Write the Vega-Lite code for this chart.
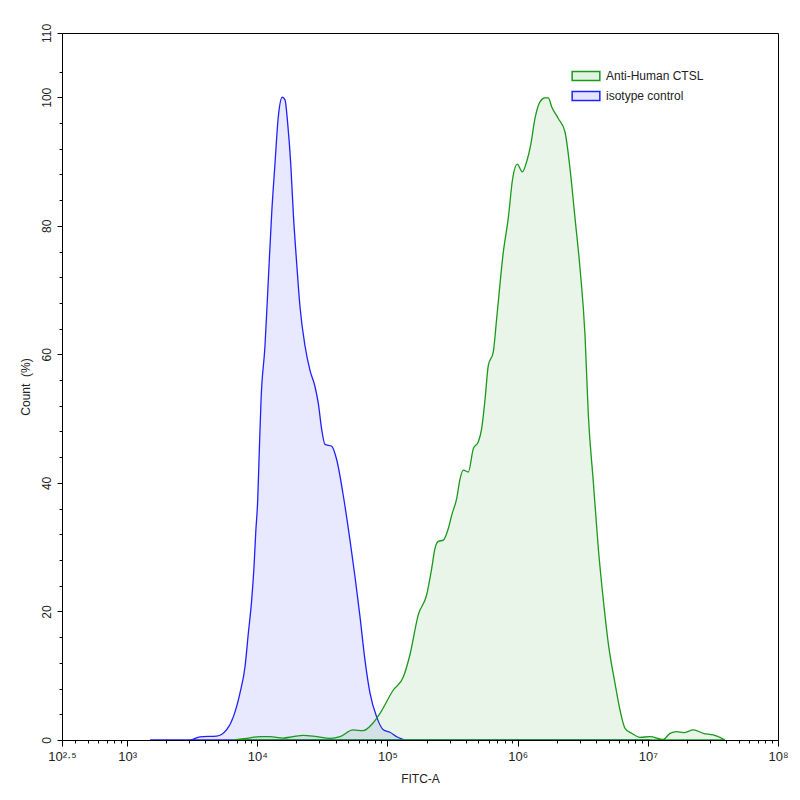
{
  "$schema": "https://vega.github.io/schema/vega-lite/v6.json",
  "width": 716,
  "height": 707,
  "autosize": "none",
  "padding": {"left": 62, "top": 33, "right": 22, "bottom": 60},
  "background": "white",
  "config": {
    "font": "Liberation Sans",
    "view": {"stroke": "black", "strokeWidth": 1},
    "axis": {"labelFont": "Liberation Sans", "titleFont": "Liberation Sans", "labelColor": "#222", "titleColor": "#222", "domainColor": "black", "tickColor": "black", "grid": false}
  },
  "data": {
    "values": [
      {"series": "isotype control", "fitc": 1500, "count": 0},
      {"series": "isotype control", "fitc": 3041, "count": 0},
      {"series": "isotype control", "fitc": 3631, "count": 0.5},
      {"series": "isotype control", "fitc": 4876, "count": 0.6},
      {"series": "isotype control", "fitc": 5821, "count": 1.6},
      {"series": "isotype control", "fitc": 6546, "count": 3.6},
      {"series": "isotype control", "fitc": 7362, "count": 7.3},
      {"series": "isotype control", "fitc": 8050, "count": 11.4},
      {"series": "isotype control", "fitc": 8536, "count": 16.6},
      {"series": "isotype control", "fitc": 9060, "count": 21.8},
      {"series": "isotype control", "fitc": 9440, "count": 27.0},
      {"series": "isotype control", "fitc": 9727, "count": 32.2},
      {"series": "isotype control", "fitc": 10075, "count": 37.3},
      {"series": "isotype control", "fitc": 10370, "count": 45.1},
      {"series": "isotype control", "fitc": 10690, "count": 52.9},
      {"series": "isotype control", "fitc": 11460, "count": 61.3},
      {"series": "isotype control", "fitc": 12160, "count": 71.6},
      {"series": "isotype control", "fitc": 12910, "count": 82.0},
      {"series": "isotype control", "fitc": 13680, "count": 89.7},
      {"series": "isotype control", "fitc": 14510, "count": 97.0},
      {"series": "isotype control", "fitc": 15570, "count": 100},
      {"series": "isotype control", "fitc": 16330, "count": 99.6},
      {"series": "isotype control", "fitc": 17130, "count": 95.9},
      {"series": "isotype control", "fitc": 18070, "count": 89.7},
      {"series": "isotype control", "fitc": 18920, "count": 81.9},
      {"series": "isotype control", "fitc": 20090, "count": 74.1},
      {"series": "isotype control", "fitc": 21290, "count": 67.4},
      {"series": "isotype control", "fitc": 23270, "count": 61.3},
      {"series": "isotype control", "fitc": 25410, "count": 57.5},
      {"series": "isotype control", "fitc": 27750, "count": 55.0},
      {"series": "isotype control", "fitc": 29420, "count": 52.4},
      {"series": "isotype control", "fitc": 31260, "count": 48.3},
      {"series": "isotype control", "fitc": 33120, "count": 46.0},
      {"series": "isotype control", "fitc": 37320, "count": 45.7},
      {"series": "isotype control", "fitc": 40760, "count": 43.6},
      {"series": "isotype control", "fitc": 45810, "count": 38.0},
      {"series": "isotype control", "fitc": 51540, "count": 31.1},
      {"series": "isotype control", "fitc": 56330, "count": 25.4},
      {"series": "isotype control", "fitc": 61520, "count": 19.2},
      {"series": "isotype control", "fitc": 67230, "count": 12.4},
      {"series": "isotype control", "fitc": 73450, "count": 7.3},
      {"series": "isotype control", "fitc": 82620, "count": 3.6},
      {"series": "isotype control", "fitc": 92900, "count": 1.6},
      {"series": "isotype control", "fitc": 104600, "count": 1.2},
      {"series": "isotype control", "fitc": 117800, "count": 0.5},
      {"series": "isotype control", "fitc": 140500, "count": 0},
      {"series": "isotype control", "fitc": 10400000, "count": 0},
      {"series": "Anti-Human CTSL", "fitc": 6520, "count": 0},
      {"series": "Anti-Human CTSL", "fitc": 8300, "count": 0.26},
      {"series": "Anti-Human CTSL", "fitc": 10500, "count": 0.52},
      {"series": "Anti-Human CTSL", "fitc": 12530, "count": 0.52},
      {"series": "Anti-Human CTSL", "fitc": 15780, "count": 0.3},
      {"series": "Anti-Human CTSL", "fitc": 18800, "count": 0.52},
      {"series": "Anti-Human CTSL", "fitc": 22440, "count": 0.73},
      {"series": "Anti-Human CTSL", "fitc": 28620, "count": 0.52},
      {"series": "Anti-Human CTSL", "fitc": 36240, "count": 0.26},
      {"series": "Anti-Human CTSL", "fitc": 43250, "count": 0.52},
      {"series": "Anti-Human CTSL", "fitc": 54380, "count": 1.56},
      {"series": "Anti-Human CTSL", "fitc": 64890, "count": 1.45},
      {"series": "Anti-Human CTSL", "fitc": 77460, "count": 2.65},
      {"series": "Anti-Human CTSL", "fitc": 87660, "count": 4.15},
      {"series": "Anti-Human CTSL", "fitc": 110900, "count": 7.78},
      {"series": "Anti-Human CTSL", "fitc": 132400, "count": 9.8},
      {"series": "Anti-Human CTSL", "fitc": 149000, "count": 13.3},
      {"series": "Anti-Human CTSL", "fitc": 172600, "count": 19.5},
      {"series": "Anti-Human CTSL", "fitc": 200100, "count": 22.6},
      {"series": "Anti-Human CTSL", "fitc": 218700, "count": 26.7},
      {"series": "Anti-Human CTSL", "fitc": 231800, "count": 29.8},
      {"series": "Anti-Human CTSL", "fitc": 245800, "count": 30.9},
      {"series": "Anti-Human CTSL", "fitc": 268700, "count": 31.1},
      {"series": "Anti-Human CTSL", "fitc": 293400, "count": 32.9},
      {"series": "Anti-Human CTSL", "fitc": 311700, "count": 35.0},
      {"series": "Anti-Human CTSL", "fitc": 340500, "count": 37.6},
      {"series": "Anti-Human CTSL", "fitc": 360800, "count": 40.6},
      {"series": "Anti-Human CTSL", "fitc": 382800, "count": 42.0},
      {"series": "Anti-Human CTSL", "fitc": 418000, "count": 41.7},
      {"series": "Anti-Human CTSL", "fitc": 456300, "count": 45.3},
      {"series": "Anti-Human CTSL", "fitc": 498800, "count": 46.4},
      {"series": "Anti-Human CTSL", "fitc": 529600, "count": 48.5},
      {"series": "Anti-Human CTSL", "fitc": 561200, "count": 52.9},
      {"series": "Anti-Human CTSL", "fitc": 595400, "count": 58.3},
      {"series": "Anti-Human CTSL", "fitc": 650300, "count": 60.4},
      {"series": "Anti-Human CTSL", "fitc": 690300, "count": 65.6},
      {"series": "Anti-Human CTSL", "fitc": 776100, "count": 75.9},
      {"series": "Anti-Human CTSL", "fitc": 847400, "count": 81.2},
      {"series": "Anti-Human CTSL", "fitc": 916200, "count": 87.4},
      {"series": "Anti-Human CTSL", "fitc": 993500, "count": 89.6},
      {"series": "Anti-Human CTSL", "fitc": 1086000, "count": 88.4},
      {"series": "Anti-Human CTSL", "fitc": 1174000, "count": 90.0},
      {"series": "Anti-Human CTSL", "fitc": 1260000, "count": 92.6},
      {"series": "Anti-Human CTSL", "fitc": 1359000, "count": 96.7},
      {"series": "Anti-Human CTSL", "fitc": 1485000, "count": 99.3},
      {"series": "Anti-Human CTSL", "fitc": 1622000, "count": 99.9},
      {"series": "Anti-Human CTSL", "fitc": 1721000, "count": 99.9},
      {"series": "Anti-Human CTSL", "fitc": 1828000, "count": 98.5},
      {"series": "Anti-Human CTSL", "fitc": 2053000, "count": 96.7},
      {"series": "Anti-Human CTSL", "fitc": 2311000, "count": 94.6},
      {"series": "Anti-Human CTSL", "fitc": 2525000, "count": 88.9},
      {"series": "Anti-Human CTSL", "fitc": 2759000, "count": 81.2},
      {"series": "Anti-Human CTSL", "fitc": 3014000, "count": 73.4},
      {"series": "Anti-Human CTSL", "fitc": 3292000, "count": 63.0},
      {"series": "Anti-Human CTSL", "fitc": 3491000, "count": 50.6},
      {"series": "Anti-Human CTSL", "fitc": 3813000, "count": 40.2},
      {"series": "Anti-Human CTSL", "fitc": 4167000, "count": 29.8},
      {"series": "Anti-Human CTSL", "fitc": 4552000, "count": 21.8},
      {"series": "Anti-Human CTSL", "fitc": 4973000, "count": 15.0},
      {"series": "Anti-Human CTSL", "fitc": 5598000, "count": 8.8},
      {"series": "Anti-Human CTSL", "fitc": 6113000, "count": 4.67},
      {"series": "Anti-Human CTSL", "fitc": 6680000, "count": 1.82},
      {"series": "Anti-Human CTSL", "fitc": 7521000, "count": 1.04},
      {"series": "Anti-Human CTSL", "fitc": 8710000, "count": 0.42},
      {"series": "Anti-Human CTSL", "fitc": 10400000, "count": 0.52},
      {"series": "Anti-Human CTSL", "fitc": 13160000, "count": 0.1},
      {"series": "Anti-Human CTSL", "fitc": 14820000, "count": 1.04},
      {"series": "Anti-Human CTSL", "fitc": 16680000, "count": 1.29},
      {"series": "Anti-Human CTSL", "fitc": 18760000, "count": 1.14},
      {"series": "Anti-Human CTSL", "fitc": 22400000, "count": 1.56},
      {"series": "Anti-Human CTSL", "fitc": 26700000, "count": 1.04},
      {"series": "Anti-Human CTSL", "fitc": 31860000, "count": 0.78},
      {"series": "Anti-Human CTSL", "fitc": 39170000, "count": 0}
    ]
  },
  "layer": [
    {
      "mark": {"type": "area", "fillOpacity": 0.1, "strokeWidth": 1.3, "interpolate": "monotone", "clip": true},
      "encoding": {
        "x": {
          "field": "fitc", "type": "quantitative",
          "scale": {"type": "log", "domain": [316.2278, 100000000], "nice": false},
          "axis": {
            "orient": "bottom",
            "title": "FITC-A", "titleFontSize": 12, "titleFontWeight": "normal", "titlePadding": 10,
            "values": [316.2278, 1000, 10000, 100000, 1000000, 10000000, 100000000],
            "labelExpr": "datum.value < 500 ? '10²·⁵' : ['', '', '', '10³', '10⁴', '10⁵', '10⁶', '10⁷', '10⁸'][round(log(datum.value) / LN10)]",
            "labelFontSize": 13, "labelPadding": 4, "tickSize": 6, "labelFlush": false
          }
        },
        "y": {
          "field": "count", "type": "quantitative", "stack": null,
          "scale": {"domain": [0, 110], "nice": false},
          "axis": {
            "orient": "left",
            "title": "Count\u00a0 (%)", "titleFontSize": 12, "titleFontWeight": "normal", "titlePadding": 8,
            "values": [0, 20, 40, 60, 80, 100, 110],
            "labelAngle": 270, "labelAlign": "center", "labelBaseline": "bottom",
            "labelFontSize": 12, "labelPadding": 4, "tickSize": 5, "labelFlush": false
          }
        },
        "fill": {
          "field": "series", "type": "nominal",
          "scale": {"domain": ["Anti-Human CTSL", "isotype control"], "range": ["#1a991a", "#2020ff"]},
          "legend": {
            "title": null, "orient": "none", "legendX": 514, "legendY": 33,
            "symbolType": "M-1.5,-0.5L1.5,-0.5L1.5,0.5L-1.5,0.5Z", "symbolSize": 340,
            "symbolStrokeWidth": 1.5, "labelFontSize": 12, "labelColor": "#222", "rowPadding": 2, "labelOffset": 10,
            "encode": {"symbols": {"update": {"fillOpacity": {"value": 0.12}, "strokeOpacity": {"value": 1}}}}
          }
        },
        "stroke": {
          "field": "series", "type": "nominal",
          "scale": {"domain": ["Anti-Human CTSL", "isotype control"], "range": ["#1a991a", "#2020ff"]}
        },
        "detail": {"field": "series"}
      }
    },
    {
      "mark": {"type": "point", "opacity": 0},
      "encoding": {
        "x": {
          "field": "fitc", "type": "quantitative",
          "axis": {
            "orient": "bottom",
            "title": null, "labels": false, "domain": false, "tickSize": 3,
            "values": [400, 500, 600, 700, 800, 900, 2000, 3000, 4000, 5000, 6000, 7000, 8000, 9000, 20000, 30000, 40000, 50000, 60000, 70000, 80000, 90000, 200000, 300000, 400000, 500000, 600000, 700000, 800000, 900000, 2000000, 3000000, 4000000, 5000000, 6000000, 7000000, 8000000, 9000000, 20000000, 30000000, 40000000, 50000000, 60000000, 70000000, 80000000, 90000000]
          }
        },
        "y": {
          "field": "count", "type": "quantitative",
          "axis": {
            "orient": "left",
            "title": null, "labels": false, "domain": false, "tickSize": 3,
            "values": [4, 8, 12, 16, 24, 28, 32, 36, 44, 48, 52, 56, 64, 68, 72, 76, 84, 88, 92, 96, 104]
          }
        }
      }
    }
  ],
  "resolve": {"axis": {"x": "independent", "y": "independent"}}
}
